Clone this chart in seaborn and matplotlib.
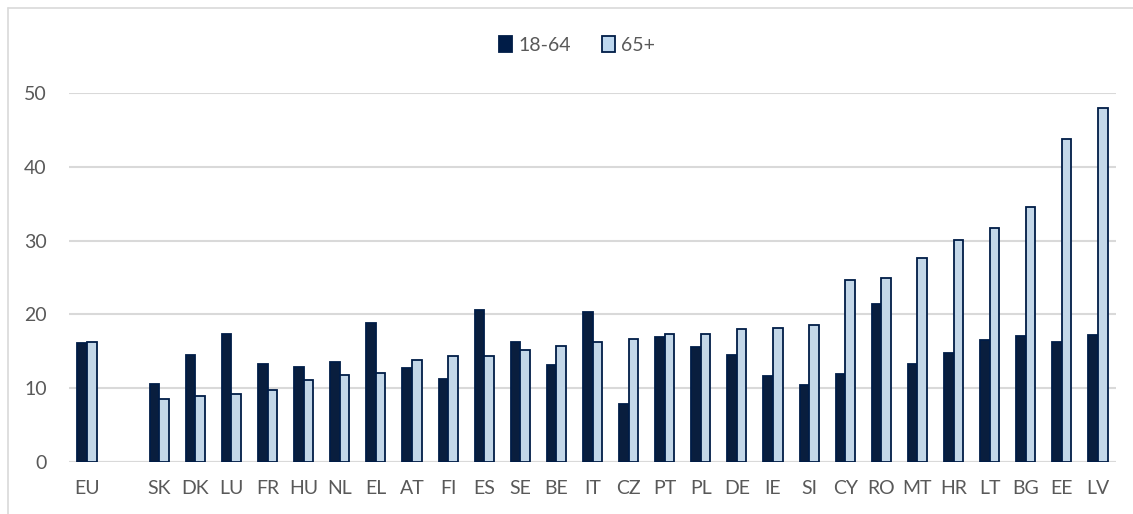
import numpy as np
import pandas as pd
import matplotlib
matplotlib.use("Agg")
import matplotlib.pyplot as plt
from matplotlib.lines import Line2D
import seaborn as sns

categories = ["EU", "", "SK", "DK", "LU", "FR", "HU", "NL", "EL", "AT", "FI", "ES", "SE", "BE",
              "IT", "CZ", "PT", "PL", "DE", "IE", "SI", "CY", "RO", "MT", "HR", "LT", "BG", "EE", "LV"]
age_18_64 = [16.1, np.nan, 10.6, 14.5, 17.4, 13.3, 12.9, 13.6, 18.9, 12.8, 11.2, 20.6, 16.2, 13.1,
             20.3, 7.9, 17.0, 15.6, 14.5, 11.6, 10.5, 11.9, 21.4, 13.3, 14.8, 16.5, 17.1, 16.2, 17.2]
age_65_plus = [16.2, np.nan, 8.6, 9.0, 9.2, 9.7, 11.1, 11.8, 12.1, 13.8, 14.4, 14.4, 15.2, 15.7,
               16.2, 16.6, 17.4, 17.4, 18.0, 18.2, 18.6, 24.6, 25.0, 27.6, 30.1, 31.7, 34.6, 43.8, 47.9]
series_names = ["18-64", "65+"]
yticks = [0, 10, 20, 30, 40, 50]

df = pd.DataFrame({
    "country": categories * 2,
    "value": age_18_64 + age_65_plus,
    "group": [series_names[0]] * len(categories) + [series_names[1]] * len(categories),
})

sns.set_theme(style="white")
plt.rcParams["font.family"] = ["Lato", "DejaVu Sans"]

dark = "#001c47"
light = "#bdd7ee"
text_col = "#595959"
grid_col = "#d9d9d9"

fig = plt.figure(figsize=(11.33, 5.14), dpi=100)
ax = fig.add_axes([69 / 1133, 1 - 462 / 514, (1116 - 69) / 1133, (462 - 93) / 514])

sns.barplot(data=df, x="country", y="value", hue="group", order=categories,
            hue_order=series_names, palette=[dark, light], width=0.53, gap=0,
            edgecolor=dark, linewidth=1.3, ax=ax, legend=False, errorbar=None)

ax.set_ylim(0, 50)
ax.set_xlim(-0.5, len(categories) - 0.5)
ax.set_yticks(yticks)
ax.yaxis.grid(True, color=grid_col, linewidth=1.5)
ax.set_axisbelow(True)
for s in ["top", "right", "left", "bottom"]:
    ax.spines[s].set_visible(False)
ax.axhline(0, color=grid_col, linewidth=1.5, zorder=0.5)
ax.set_xlabel("")
ax.set_ylabel("")
ax.tick_params(axis="both", length=0, labelsize=14, colors=text_col)
ax.tick_params(axis="x", pad=13)
ax.tick_params(axis="y", pad=16)

handles = [
    plt.Rectangle((0, 0), 1, 1, facecolor=dark, edgecolor=dark, linewidth=1.3),
    plt.Rectangle((0, 0), 1, 1, facecolor=light, edgecolor=dark, linewidth=1.3),
]
fig.legend(handles, series_names, loc="center", bbox_to_anchor=(577 / 1133, 1 - 45 / 514),
           ncol=2, frameon=False, fontsize=14, labelcolor=text_col,
           handlelength=0.7, handleheight=0.9, handletextpad=0.3, columnspacing=1.6)

# figure border
fig.add_artist(Line2D([8 / 1133, 8 / 1133], [0, 1 - 8 / 514], transform=fig.transFigure,
                      color=grid_col, linewidth=1.2))
fig.add_artist(Line2D([8 / 1133, 1], [1 - 8 / 514, 1 - 8 / 514], transform=fig.transFigure,
                      color=grid_col, linewidth=1.2))

fig.savefig("out.png", dpi=100, facecolor="white")
